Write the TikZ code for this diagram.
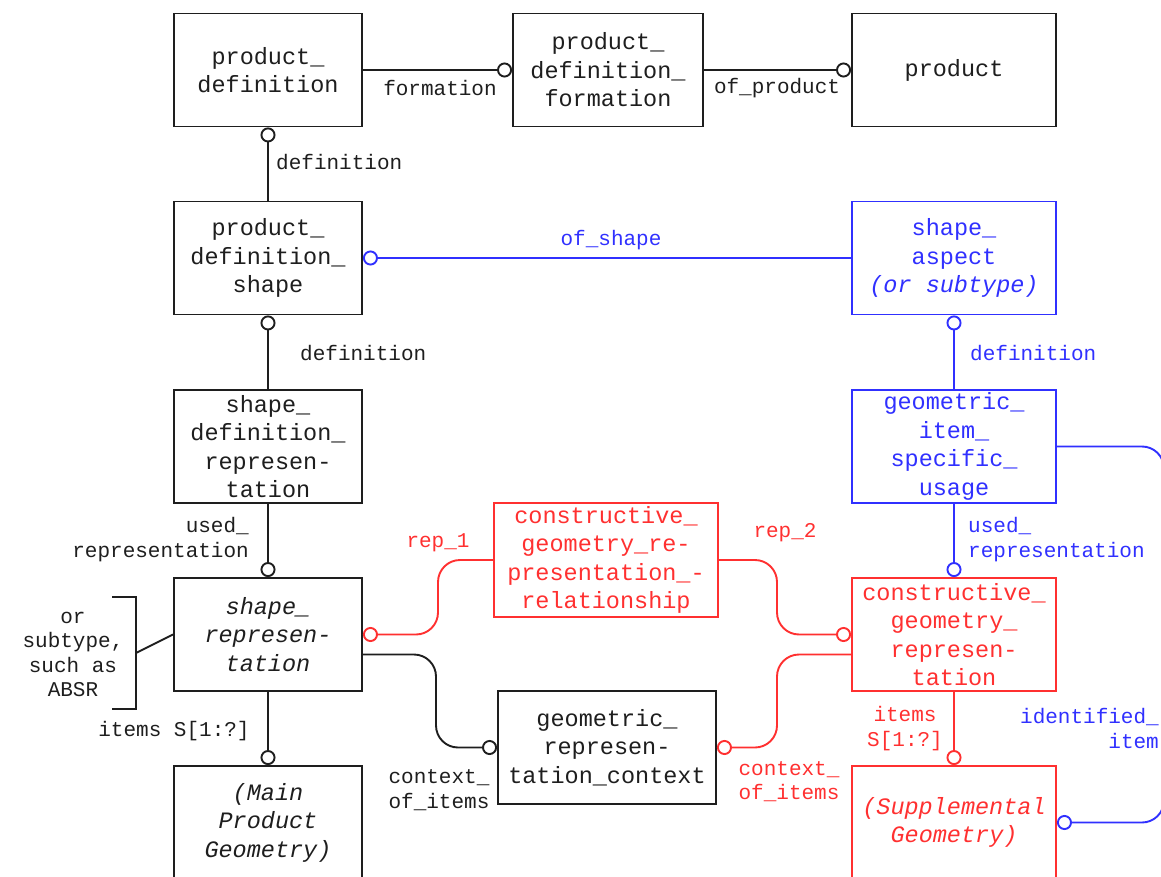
\documentclass[tikz,border=0pt]{standalone}
\usepackage{fontspec}
\setmonofont{Liberation Mono}
\usetikzlibrary{arrows.meta}

\definecolor{erred}{RGB}{255,48,48}
\definecolor{erblue}{RGB}{48,48,255}
\definecolor{erblack}{RGB}{30,30,30}
\newcommand{\boxfont}{\ttfamily\fontsize{23.5}{28.5}\selectfont}
\newcommand{\lblfont}{\ttfamily\fontsize{21}{24.5}\selectfont}

\begin{document}
\begin{tikzpicture}[x=1pt,y=-1pt,
  entity/.style={draw,line width=1.9pt,minimum width=188pt,minimum height=113pt,
    align=center,inner sep=0pt,font=\boxfont},
  lbl/.style={inner sep=0pt,font=\lblfont},
  link/.style={line width=1.9pt,rounded corners=22pt,
    -{Circle[open,length=15pt,width=15pt]}}]

\useasboundingbox (0,0) rectangle (1161,877);
\clip (0,0) rectangle (1161,877);

% entities
\node[entity,color=erblack] (pd) at (268,70) {product\_\\definition};
\node[entity,color=erblack,minimum width=190pt] (pdf) at (608,70) {product\_\\definition\_\\formation};
\node[entity,color=erblack,minimum width=204pt] (prod) at (954,70) {product};
\node[entity,color=erblack] (pds) at (268,258) {product\_\\definition\_\\shape};
\node[entity,color=erblue,minimum width=204pt] (sa) at (954,258) {shape\_\\aspect\\\textit{(or subtype)}};
\node[entity,color=erblack] (sdr) at (268,446.5) {shape\_\\definition\_\\represen-\\tation};
\node[entity,color=erblue,minimum width=204pt] (gisu) at (954,446.5) {geometric\_\\item\_\\specific\_\\usage};
\node[entity,color=erred,minimum width=224pt,minimum height=114pt] (cgrr) at (606,560) {constructive\_\\geometry\_re-\\presentation\_-\\relationship};
\node[entity,color=erblack] (shrep) at (268,634.5) {\itshape shape\_\\\itshape represen-\\\itshape tation};
\node[entity,color=erred,minimum width=204pt] (cgr) at (954,634.5) {constructive\_\\geometry\_\\represen-\\tation};
\node[entity,color=erblack,minimum width=218pt] (grc) at (607,747.5) {geometric\_\\represen-\\tation\_context};
\node[entity,color=erblack] (mpg) at (268,822.5) {\itshape (Main\\\itshape Product\\\itshape Geometry)};
\node[entity,color=erred,minimum width=204pt] (sg) at (954,822.5) {\itshape (Supplemental\\\itshape Geometry)};

% straight links
\path[link,erblack] (pd) edge (pdf)
  (pdf) edge (prod)
  (pds) edge (pd)
  (sdr) edge (pds)
  (sdr) edge (shrep)
  (shrep) edge (mpg);
\path[link,erblue] (sa) edge (pds)
  (gisu) edge (sa)
  (gisu) edge (cgr);
\path[link,erred] (cgr) edge (sg);

% bent links
\draw[link,erred] (cgrr.west) -- (438,560) -- (438,634.5) -- (shrep.east);
\draw[link,erred] (cgrr.east) -- (777,560) -- (777,634.5) -- (cgr.west);
\draw[link,erblack] ([yshift=-20pt]shrep.east) -- (436,654.5) -- (436,747.5) -- (grc.west);
\draw[link,erred] ([yshift=-20pt]cgr.west) -- (777,654.5) -- (777,747.5) -- (grc.east);
\draw[link,erblue] (gisu.east) -- (1164,446.5) -- (1164,822.5) -- (sg.east);

% subtype bracket
\coordinate (brk) at (136,653);
\draw[erblack,line width=1.9pt] (112,597) -- (136,597) -- (136,709) -- (112,709);
\draw[erblack,line width=1.9pt] (brk) -- (shrep.west);
\node[lbl,align=center,erblack] (subt) at (73,654.5) {or\\subtype,\\such as\\ABSR};

% role labels
\node[lbl,erblack] (lformation) at (440,88) {formation};
\node[lbl,erblack] (lofproduct) at (777,88) {of\_product};
\node[lbl,erblack,anchor=west] (ldef1) at (276,162) {definition};
\node[lbl,erblue] (lofshape) at (611,240) {of\_shape};
\node[lbl,erblack,anchor=west] (ldef2) at (300,353) {definition};
\node[lbl,erblue,anchor=west] (ldef3) at (970,353) {definition};
\node[lbl,erblack,anchor=east,align=right] (lused1) at (249,539.5) {used\_\\representation};
\node[lbl,erblue,anchor=west,align=left] (lused2) at (968,539.5) {used\_\\representation};
\node[lbl,erred] (lrep1) at (438,543) {rep\_1};
\node[lbl,erred] (lrep2) at (785,533) {rep\_2};
\node[lbl,erblack,align=left] (lctx1) at (439,790) {context\_\\of\_items};
\node[lbl,erred,align=left] (lctx2) at (789,781.5) {context\_\\of\_items};
\node[lbl,erblack] (litems1) at (174,731) {items S[1:?]};
\node[lbl,erred,align=center] (litems2) at (905,728.5) {items\\S[1:?]};
\node[lbl,erblue,anchor=east,align=right] (lident) at (1159,728.5) {identified\_\\item};

\end{tikzpicture}
\end{document}
